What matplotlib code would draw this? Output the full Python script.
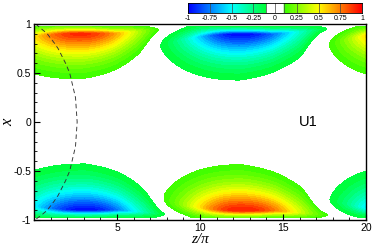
import numpy as np
import matplotlib
matplotlib.use('Agg')
import matplotlib.pyplot as plt
from matplotlib.colors import LinearSegmentedColormap

# streak blobs (upper half, x > 0)
top_zc = [2.8, 12.4, 22.0]
top_amp = [0.92, -1.0, 0.85]
top_wl = [3.7, 3.29, 3.0]
top_wr = [3.56, 3.84, 3.84]
# lower half (x < 0)
bot_zc = [3.1, 12.5, 22.0]
bot_amp = [-1.0, 0.95, -0.8]
bot_wl = [3.7, 3.29, 3.0]
bot_wr = [3.56, 3.84, 3.84]

# dashed curve
dash_x = [1.0, 0.95, 0.9, 0.8, 0.75, 0.6, 0.5, 0.25, 0.0, -0.25, -0.5, -0.6, -0.75, -0.8, -0.9, -0.95, -1.0]
dash_z = [0.1, 0.45, 0.8, 1.25, 1.45, 1.9, 2.15, 2.5, 2.6, 2.5, 2.15, 1.9, 1.45, 1.25, 0.8, 0.45, 0.05]

cb_ticks = [-1, -0.75, -0.5, -0.25, 0, 0.25, 0.5, 0.75, 1]
cb_labels = ['-1', '-0.75', '-0.5', '-0.25', '0', '0.25', '0.5', '0.75', '1']


def smooth(t):
    t = np.clip(t, 0, 1)
    return t * t * (3 - 2 * t)


def blob(Z, Xa, zc, amp, wl, wr):
    dz = Z - zc
    a = np.where(dz < 0, dz / wl, dz / wr)
    up = dz < 0
    xc = np.where(up, 0.9 - 0.053 * a ** 2, 0.9 + 0.015 * np.clip(dz - 2, 0, None))
    s_lo = np.where(up, 0.26,
                    (0.26 - 0.013 * dz) * (1 - 0.72 * smooth((dz - 3.5) / 1.6)))
    s_up = np.where(up, 0.052 + 0.06 * a ** 2, 0.052)
    s = np.where(Xa < xc, s_lo, s_up)
    b = np.abs(Xa - xc) / s
    return amp * np.exp(-(np.abs(a) ** 2.2 + b ** 1.4))


z = np.linspace(0, 20, 500)
x = np.linspace(-1, 1, 400)
Z, X = np.meshgrid(z, x)
U = np.zeros_like(Z)
for zc, a, wl, wr in zip(top_zc, top_amp, top_wl, top_wr):
    U += np.where(X > 0, blob(Z, np.abs(X), zc, a, wl, wr), 0)
for zc, a, wl, wr in zip(bot_zc, bot_amp, bot_wl, bot_wr):
    U += np.where(X <= 0, blob(Z, np.abs(X), zc, a, wl, wr), 0)
U[np.abs(X) > 0.975] = 0

cmap = LinearSegmentedColormap.from_list(
    'tec', [(0, '#0000ff'), (0.25, '#00ffff'), (0.5, '#00ff00'),
            (0.75, '#ffff00'), (1, '#ff0000')])

plt.rcParams['font.family'] = ['Liberation Sans', 'DejaVu Sans']
fig = plt.figure(figsize=(3.74, 2.49), dpi=100)
ax = fig.add_axes([34 / 374, 29 / 249, 332 / 374, 196 / 249])

lev_neg = np.arange(-1.05, -0.099, 0.05)
lev_pos = np.arange(0.1, 1.06, 0.05)
ax.contourf(Z, X, U, levels=lev_neg, cmap=cmap, vmin=-1, vmax=1, extend='min')
ax.contourf(Z, X, U, levels=lev_pos, cmap=cmap, vmin=-1, vmax=1, extend='max')
ax.plot(dash_z, dash_x, color='#333333', lw=0.65, ls=(0, (5, 3.5)))

ax.set_xlim(0, 20)
ax.set_ylim(-1, 1)
ax.set_xticks([5, 10, 15, 20])
ax.set_xticks(np.arange(1, 20), minor=True)
ax.set_yticks([-1, -0.5, 0, 0.5, 1])
ax.set_yticklabels(['-1', '-0.5', '0', '0.5', '1'])
ax.set_yticks(np.arange(-0.9, 1.0, 0.1), minor=True)
ax.tick_params(direction='in', labelsize=7.5, width=0.8, length=4, pad=2)
ax.tick_params(which='minor', direction='in', length=2, width=0.6)
for sp in ax.spines.values():
    sp.set_linewidth(1.0)
ax.set_xlabel('z/π', family='Liberation Serif', style='italic', fontsize=11, labelpad=0)
ax.set_ylabel('x', family='Liberation Serif', style='italic', fontsize=12)
ax.yaxis.set_label_coords(-0.055, 0.5)
ax.text(16.5, 0, 'U1', fontsize=10.5, ha='center', va='center')

# colour bar
cax = fig.add_axes([188 / 374, 236 / 249, 174 / 374, 10 / 249])
grad = np.linspace(-1, 1, 400)
cols = cmap((grad + 1) / 2)
cols[np.abs(grad) < 0.1] = [1, 1, 1, 1]
cax.imshow(cols[None, :, :], aspect='auto', extent=[-1, 1, 0, 1])
for v in [-0.75, -0.5, -0.25, -0.1, 0, 0.1, 0.25, 0.5, 0.75]:
    cax.axvline(v, color='#444444', lw=0.5)
cax.set_xlim(-1, 1)
cax.set_yticks([])
cax.set_xticks(cb_ticks)
cax.set_xticklabels(cb_labels)
cax.tick_params(labelsize=5, length=0, pad=1.5)
for sp in cax.spines.values():
    sp.set_linewidth(0.6)

fig.savefig('out.png', dpi=100)
